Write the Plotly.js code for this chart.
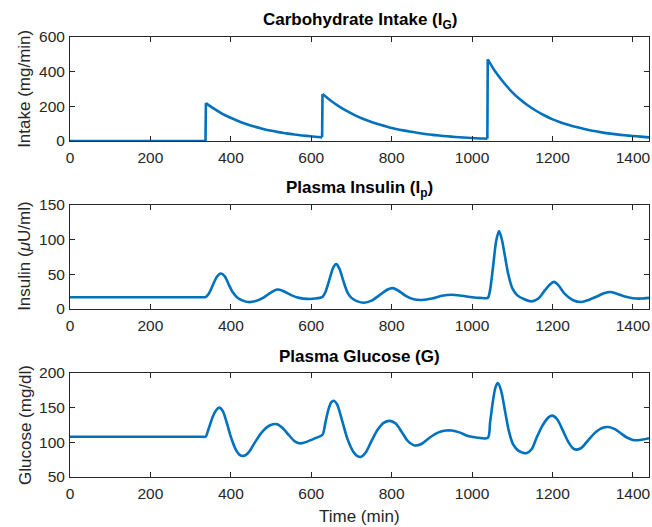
<!DOCTYPE html>
<html>
<head>
<meta charset="utf-8">
<script src="https://cdn.plot.ly/plotly-3.0.1.min.js"></script>
<style>html,body{margin:0;padding:0;background:#fff;}#chart{width:652px;height:527px;}</style>
</head>
<body>
<div id="chart"></div>
<script>
// ---- Carbohydrate intake (mg/min): fasting baseline, then one decaying curve per meal ----
var fastTime = [0, 337];
var fastValue = [0, 0];
var meal1Time = [338, 358, 378, 398, 418, 438, 458, 478, 498, 518, 538, 558, 578, 598, 618, 627];
var meal1Value = [218, 186, 158, 135, 115, 98, 83, 71, 60, 51, 44, 37, 32, 27, 23, 21];
var meal2Time = [628, 648, 668, 688, 708, 728, 748, 768, 788, 808, 828, 848, 868, 888, 908, 928, 948, 968, 988, 1008, 1028, 1038];
var meal2Value = [270, 233, 201, 173, 149, 128, 111, 96, 82, 71, 61, 53, 46, 39, 34, 29, 25, 22, 19, 16, 14, 13];
var meal3Time = [1039, 1059, 1079, 1099, 1119, 1139, 1159, 1179, 1199, 1219, 1239, 1259, 1279, 1299, 1319, 1339, 1359, 1379, 1399, 1419, 1440];
var meal3Value = [470, 395, 335, 283, 240, 204, 174, 148, 126, 108, 93, 80, 69, 59, 51, 44, 38, 33, 29, 25, 21];

// ---- Plasma insulin (uU/ml) ----
var insulinTime = [0, 300, 320, 330, 337, 345, 355, 365, 375, 385, 395, 405, 415, 430, 443, 460, 480, 500, 515, 530, 550, 570, 590, 610, 628,
  635, 645, 655, 662, 670, 680, 690, 700, 715, 731, 750, 770, 790, 802, 815, 835, 855, 875, 900, 925, 950, 975, 1000, 1020, 1039,
  1044, 1052, 1060, 1067, 1074, 1082, 1090, 1100, 1112, 1130, 1148, 1165, 1180, 1195, 1204, 1215, 1230, 1250, 1272, 1290, 1310, 1330, 1343, 1360, 1380, 1400, 1420, 1440];
var insulinValue = [17, 17, 17, 17, 17, 22, 34, 46, 51, 47, 35, 24, 17, 12, 10, 11, 16, 24, 28, 26, 20, 16, 14.5, 15, 17.5,
  24, 42, 60, 64.5, 58, 40, 24, 16, 11, 9, 12, 20, 28, 30, 27, 19, 14, 13, 15, 19, 20.5, 19, 17, 16, 16,
  25, 60, 98, 112, 100, 75, 50, 30, 20, 14, 11, 15, 26, 36, 39, 34, 22, 13, 10, 13, 18, 23, 24.5, 22, 18, 15.5, 15, 16];

// ---- Plasma glucose (mg/dl) ----
var glucoseTime = [0, 300, 320, 330, 337, 345, 355, 363, 371, 380, 390, 400, 412, 422, 432, 445, 460, 475, 490, 505, 515, 530, 545, 560, 574, 590, 610, 628,
  635, 643, 650, 656, 664, 675, 690, 705, 715, 723, 735, 750, 765, 780, 795, 810, 825, 840, 857, 875, 895, 915, 935, 950, 970, 990, 1010, 1039,
  1045, 1052, 1058, 1064, 1072, 1082, 1092, 1102, 1115, 1126, 1136, 1148, 1160, 1175, 1190, 1200, 1212, 1225, 1240, 1252, 1260, 1272, 1290, 1310, 1325, 1339, 1355, 1370, 1385, 1400, 1412, 1425, 1440];
var glucoseValue = [108, 108, 108, 108, 108, 120, 137, 146, 150, 145, 128, 108, 90, 82, 80.5, 86, 100, 113, 122, 126, 126, 120, 110, 101, 98.5, 101, 106, 111,
  128, 148, 158, 160, 155, 135, 105, 86, 80, 79, 85, 102, 118, 128, 131, 127, 115, 102, 95.5, 98, 107, 114, 117, 117, 114, 109, 107, 106.5,
  130, 160, 179, 185.5, 175, 145, 115, 97, 88, 85, 84.5, 90, 106, 124, 136, 138.5, 133, 118, 100, 91, 89.5, 92, 104, 116, 121, 122, 119, 113, 107, 103.5, 103, 104, 106];

var xTicks = [0, 200, 400, 600, 800, 1000, 1200, 1400];
var intakeTicks = [0, 200, 400, 600];
var insulinTicks = [0, 50, 100, 150];
var glucoseTicks = [50, 100, 150, 200];

var lineColor = '#0072BD';
var axisColor = '#262626';
var FONT = 'Liberation Sans, Arial, Helvetica, sans-serif';
var LW = 2.6;

// vertical meal jumps: connect the end of each piece to the start of the next
var pieces = [[fastTime, fastValue], [meal1Time, meal1Value], [meal2Time, meal2Value], [meal3Time, meal3Value]];
var jumpX = [], jumpY = [];
for (var i = 0; i < pieces.length - 1; i++) {
  var a = pieces[i], b = pieces[i + 1];
  jumpX.push(a[0][a[0].length - 1], b[0][0], null);
  jumpY.push(a[1][a[1].length - 1], b[1][0], null);
}

function line(x, y, xa, ya, spline) {
  var t = {x: x, y: y, type: 'scatter', mode: 'lines', line: {color: lineColor, width: LW}, xaxis: xa, yaxis: ya, hoverinfo: 'none'};
  if (spline) { t.line.shape = 'spline'; t.line.smoothing = 0.8; }
  return t;
}

var traces = [
  line(fastTime, fastValue, 'x', 'y', false),
  line(jumpX, jumpY, 'x', 'y', false),
  line(meal1Time, meal1Value, 'x', 'y', true),
  line(meal2Time, meal2Value, 'x', 'y', true),
  line(meal3Time, meal3Value, 'x', 'y', true),
  line(insulinTime, insulinValue, 'x2', 'y2', true),
  line(glucoseTime, glucoseValue, 'x3', 'y3', true)
];

function baseAxis() {
  return {showline: true, mirror: 'ticks', linecolor: axisColor, linewidth: 1, ticks: 'inside', ticklen: 5, tickwidth: 1, tickcolor: axisColor,
    showgrid: false, zeroline: false, tickfont: {family: FONT, size: 15.5, color: axisColor}, automargin: false, fixedrange: true};
}
function xax(anchor) {
  var a = baseAxis();
  a.anchor = anchor; a.domain = [0, 1]; a.range = [0, 1440]; a.tickvals = xTicks; a.ticktext = xTicks.map(String);
  a.ticklabelstandoff = 2;
  return a;
}
function yax(anchor, domain, range, ticks) {
  var a = baseAxis();
  a.anchor = anchor; a.domain = domain; a.range = range; a.tickvals = ticks; a.ticktext = ticks.map(String);
  a.ticklabelstandoff = 1;
  return a;
}

var H = 527;
function dom(top, bottom) { return [1 - bottom / H, 1 - top / H]; }
var d1 = dom(36.7, 141), d2 = dom(204.7, 309), d3 = dom(373, 477);

function title(text, d, shift) {
  return {text: text, xref: 'paper', yref: 'paper', x: 0.5, y: d[1], yanchor: 'bottom', xanchor: 'center', yshift: shift,
    showarrow: false, font: {family: FONT, size: 17, color: '#000'}};
}
function ylab(text, d) {
  return {text: text, xref: 'paper', yref: 'paper', x: 0, xshift: -45, y: (d[0] + d[1]) / 2, textangle: -90,
    xanchor: 'center', yanchor: 'middle', showarrow: false, font: {family: FONT, size: 17, color: axisColor}};
}

var layout = {
  width: 652, height: 527, margin: {l: 70, r: 3, t: 0, b: 0}, paper_bgcolor: '#fff', plot_bgcolor: '#fff', showlegend: false,
  xaxis: xax('y'), yaxis: yax('x', d1, [0, 600], intakeTicks),
  xaxis2: xax('y2'), yaxis2: yax('x2', d2, [0, 150], insulinTicks),
  xaxis3: xax('y3'), yaxis3: yax('x3', d3, [50, 200], glucoseTicks),
  annotations: [
    title('<b>Carbohydrate Intake (I<sub>G</sub>)</b>', d1, 3),
    title('<b>Plasma Insulin (I<sub>p</sub>)</b>', d2, 3),
    title('<b>Plasma Glucose (G)</b>', d3, 5),
    ylab('Intake (mg/min)', d1),
    ylab('Insulin (<i>μ</i>U/ml)', d2),
    ylab('Glucose (mg/dl)', d3),
    {text: 'Time (min)', xref: 'paper', yref: 'paper', x: 0.5, y: d3[0], yshift: -39, xanchor: 'center', yanchor: 'middle',
      showarrow: false, font: {family: FONT, size: 17, color: axisColor}}
  ]
};

Plotly.newPlot('chart', traces, layout, {displayModeBar: false, staticPlot: true});
</script>
</body>
</html>
